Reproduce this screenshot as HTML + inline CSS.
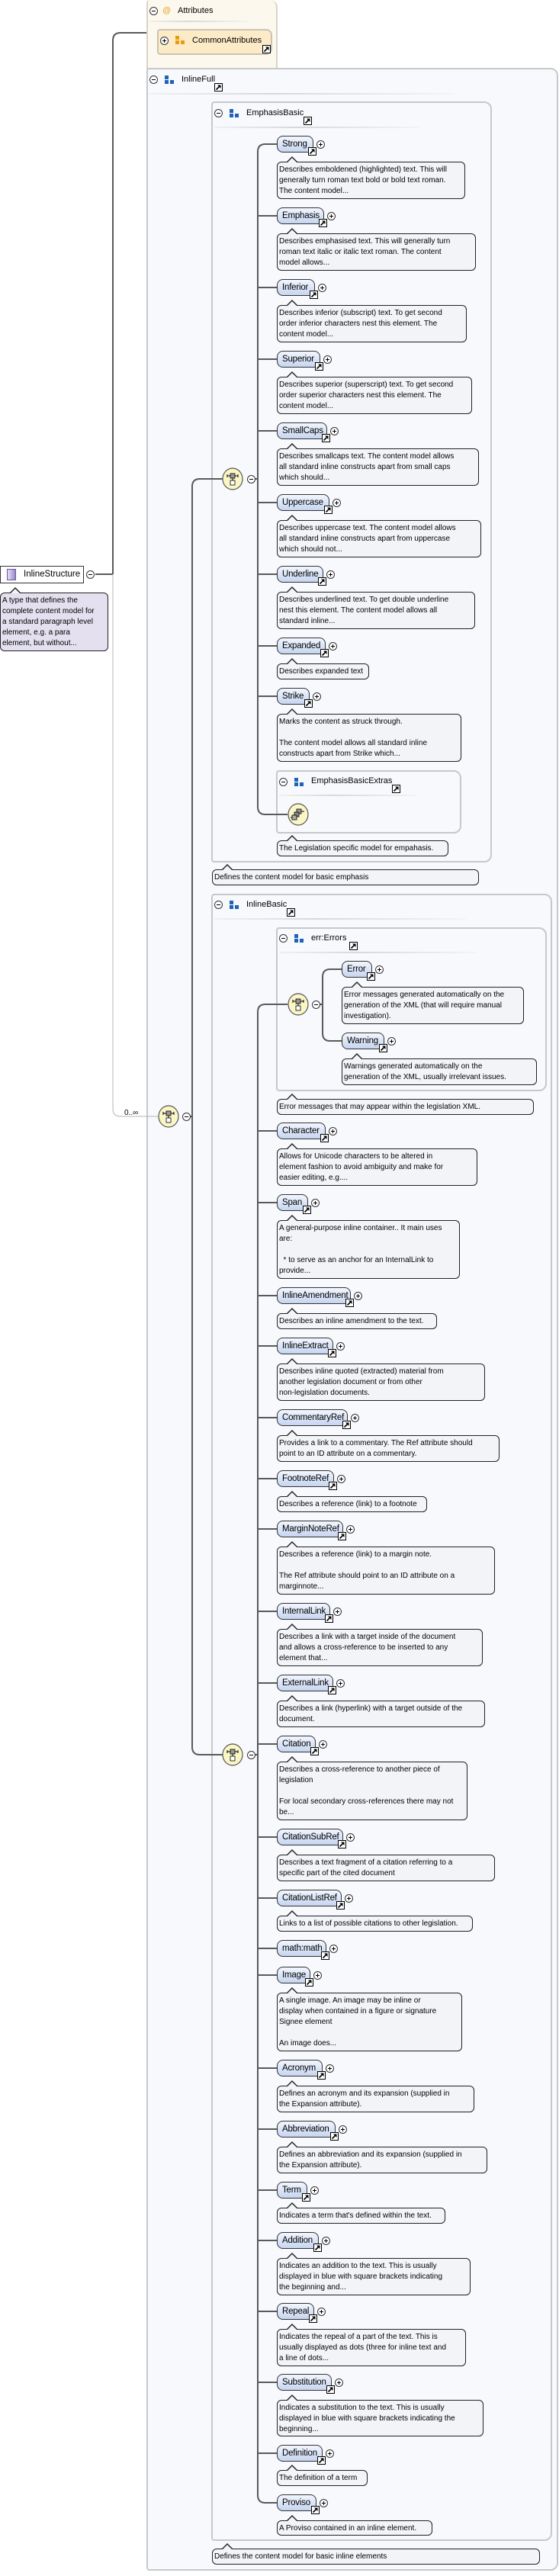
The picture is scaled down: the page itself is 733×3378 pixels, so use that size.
<!DOCTYPE html>
<html><head><meta charset="utf-8">
<style>
*{margin:0;padding:0}
body{width:733px;height:3378px;position:relative;background:#fff;font-family:"Liberation Sans",Arial,sans-serif;overflow:hidden}
.g{position:absolute;border:2px solid #c6c8cc;border-radius:4px 10px 10px 4px;background:#f7f9fd;box-sizing:border-box;z-index:1}
.hd{position:absolute;font-size:11px;line-height:14px;color:#000;z-index:4;white-space:nowrap}
.sep{position:absolute;height:2px;background:linear-gradient(90deg,#f0f0f0,#d8d8d8 40%,#f4f4f4);z-index:2}
.mi,.p{position:absolute;width:9px;height:9px;border:1px solid #333;border-radius:50%;background:#fff;z-index:4;box-sizing:content-box}
.mi::after{content:"";position:absolute;left:2px;top:4px;width:5px;height:1px;background:#000}
.p::after{content:"";position:absolute;left:2px;top:4px;width:5px;height:1px;background:#000}
.p::before{content:"";position:absolute;left:4px;top:2px;width:1px;height:5px;background:#000}
.bi{position:absolute;width:14px;height:12px;z-index:4}
.bi::before{content:"";position:absolute;left:0;top:0;width:5px;height:5px;background:#1f62b6;box-shadow:0 6px 0 #1f62b6,7px 6px 0 #1f62b6}
.oi::before{background:#e89b12;box-shadow:0 6px 0 #e89b12,7px 6px 0 #e89b12}
.s{position:absolute;width:9px;height:9px;border:1px solid #000;background:#fff url("data:image/svg+xml,%3Csvg xmlns='http://www.w3.org/2000/svg' width='9' height='9'%3E%3Cpath d='M1.5 7.5 L6.5 2.5' stroke='black' stroke-width='1.6'/%3E%3Cpath d='M3 1.5 H7.5 V6 Z' fill='black'/%3E%3C/svg%3E") no-repeat;z-index:5}
.n{position:absolute;height:22px;border:1px solid #333;border-radius:8px 8px 3px 8px;background:linear-gradient(#f2f6fe,#c6d5f0);font-size:11.5px;line-height:20px;padding-left:6px;box-sizing:border-box;z-index:4;white-space:nowrap;letter-spacing:-0.2px}
.d{position:absolute;left:363px;border:1px solid #222;border-radius:6px;background:#f2f4f8;font-size:10px;line-height:14px;padding:3px 2px 0 2px;box-sizing:border-box;white-space:nowrap;z-index:4;color:#000}
.d::before{content:"";position:absolute;left:12px;top:-8px;border:7px solid transparent;border-top:0;border-bottom:7px solid #222}
.d::after{content:"";position:absolute;left:13px;top:-6px;border:6px solid transparent;border-top:0;border-bottom:6px solid #f2f4f8}
svg{position:absolute;left:0;top:0;z-index:3}
</style></head><body>

<div class="g" style="left:192px;top:0;width:172px;height:114px;background:#fdf8ee;border-color:#d9d3c7;border-top:none"></div>
<i class="mi" style="left:196px;top:9px"></i>
<div class="hd" style="left:213px;top:7px;color:#e8a020">@</div>
<div class="hd" style="left:233px;top:7px">Attributes</div>
<div class="sep" style="left:196px;top:27px;width:130px"></div>
<div class="g" style="left:206px;top:38px;width:151px;height:34px;background:#fdebc8;border-color:#c9c3b6;border-radius:4px 8px 8px 4px"></div>
<i class="p" style="left:210px;top:48px"></i>
<i class="bi oi" style="left:230px;top:47px"></i>
<div class="hd" style="left:252px;top:46px">CommonAttributes</div>
<b class="s" style="left:344px;top:59px"></b>

<div class="g" style="left:192px;top:89px;width:540px;height:3282px"></div>
<i class="mi" style="left:196px;top:99px"></i>
<i class="bi" style="left:216px;top:99px"></i>
<div class="hd" style="left:238px;top:97px">InlineFull</div>
<b class="s" style="left:281px;top:109px"></b>
<div class="sep" style="left:196px;top:122px;width:400px"></div>

<div style="position:absolute;left:0;top:742px;width:110px;height:23px;border:1px solid #333;background:#fff;box-sizing:border-box;z-index:4"></div>
<div style="position:absolute;left:9px;top:746px;width:12px;height:15px;border:1px solid #6a5a9a;background:linear-gradient(90deg,#e6e0f6,#9a88cc);box-sizing:border-box;z-index:5"></div>
<div class="hd" style="left:31px;top:746px;font-size:11.5px">InlineStructure</div>
<i class="mi" style="left:113px;top:748px"></i>
<div class="d" style="left:0;top:777px;width:142px;height:77px;background:#e4e0ef">A type that defines the<br>complete content model for<br>a standard paragraph level<br>element, e.g. a para<br>element, but without...</div>

<div class="g" style="left:277px;top:133px;width:368px;height:998px"></div>
<i class="mi" style="left:281px;top:143px"></i>
<i class="bi" style="left:301px;top:143px"></i>
<div class="hd" style="left:323px;top:141px">EmphasisBasic</div>
<b class="s" style="left:398px;top:153px"></b>
<div class="sep" style="left:281px;top:166px;width:270px"></div>

<div class="n" style="left:363px;top:178px;width:48px">Strong</div><i class="p" style="left:415px;top:184px"></i><b class="s" style="left:404px;top:193px"></b>
<div class="d" style="top:212px;width:247px;height:49px">Describes emboldened (highlighted) text. This will<br>generally turn roman text bold or bold text roman.<br>The content model...</div>
<div class="n" style="left:363px;top:272px;width:62px">Emphasis</div><i class="p" style="left:429px;top:278px"></i><b class="s" style="left:418px;top:287px"></b>
<div class="d" style="top:306px;width:261px;height:49px">Describes emphasised text. This will generally turn<br>roman text italic or italic text roman. The content<br>model allows...</div>
<div class="n" style="left:363px;top:366px;width:50px">Inferior</div><i class="p" style="left:417px;top:372px"></i><b class="s" style="left:406px;top:381px"></b>
<div class="d" style="top:400px;width:249px;height:49px">Describes inferior (subscript) text. To get second<br>order inferior characters nest this element. The<br>content model...</div>
<div class="n" style="left:363px;top:460px;width:57px">Superior</div><i class="p" style="left:424px;top:466px"></i><b class="s" style="left:413px;top:475px"></b>
<div class="d" style="top:494px;width:256px;height:49px">Describes superior (superscript) text. To get second<br>order superior characters nest this element. The<br>content model...</div>
<div class="n" style="left:363px;top:554px;width:66px">SmallCaps</div><i class="p" style="left:433px;top:560px"></i><b class="s" style="left:422px;top:569px"></b>
<div class="d" style="top:588px;width:265px;height:49px">Describes smallcaps text. The content model allows<br>all standard inline constructs apart from small caps<br>which should...</div>
<div class="n" style="left:363px;top:648px;width:69px">Uppercase</div><i class="p" style="left:436px;top:654px"></i><b class="s" style="left:425px;top:663px"></b>
<div class="d" style="top:682px;width:268px;height:49px">Describes uppercase text. The content model allows<br>all standard inline constructs apart from uppercase<br>which should not...</div>
<div class="n" style="left:363px;top:742px;width:61px">Underline</div><i class="p" style="left:428px;top:748px"></i><b class="s" style="left:417px;top:757px"></b>
<div class="d" style="top:776px;width:260px;height:49px">Describes underlined text. To get double underline<br>nest this element. The content model allows all<br>standard inline...</div>
<div class="n" style="left:363px;top:836px;width:64px">Expanded</div><i class="p" style="left:431px;top:842px"></i><b class="s" style="left:420px;top:851px"></b>
<div class="d" style="top:870px;width:121px;height:21px">Describes expanded text</div>
<div class="n" style="left:363px;top:902px;width:43px">Strike</div><i class="p" style="left:410px;top:908px"></i><b class="s" style="left:399px;top:917px"></b>
<div class="d" style="top:936px;width:242px;height:63px">Marks the content as struck through.<br><br>The content model allows all standard inline<br>constructs apart from Strike which...</div>

<div class="g" style="left:362px;top:1010px;width:243px;height:83px"></div>
<i class="mi" style="left:366px;top:1020px"></i>
<i class="bi" style="left:386px;top:1020px"></i>
<div class="hd" style="left:408px;top:1017px">EmphasisBasicExtras</div>
<b class="s" style="left:514px;top:1029px"></b>
<div class="sep" style="left:366px;top:1042px;width:180px"></div>
<div class="d" style="top:1102px;width:225px;height:21px">The Legislation specific model for empahasis.</div>
<div class="d" style="left:278px;top:1140px;width:350px;height:21px">Defines the content model for basic emphasis</div>

<div class="g" style="left:277px;top:1172px;width:447px;height:2160px"></div>
<i class="mi" style="left:281px;top:1181px"></i>
<i class="bi" style="left:301px;top:1181px"></i>
<div class="hd" style="left:323px;top:1179px">InlineBasic</div>
<b class="s" style="left:376px;top:1191px"></b>
<div class="sep" style="left:281px;top:1204px;width:330px"></div>

<div class="g" style="left:362px;top:1216px;width:355px;height:215px"></div>
<i class="mi" style="left:366px;top:1225px"></i>
<i class="bi" style="left:386px;top:1225px"></i>
<div class="hd" style="left:408px;top:1223px">err:Errors</div>
<b class="s" style="left:458px;top:1235px"></b>
<div class="sep" style="left:366px;top:1248px;width:260px"></div>
<div class="n" style="left:448px;top:1260px;width:40px">Error</div><i class="p" style="left:492px;top:1266px"></i><b class="s" style="left:481px;top:1275px"></b>
<div class="d" style="left:448px;top:1294px;width:239px;height:49px">Error messages generated automatically on the<br>generation of the XML (that will require manual<br>investigation).</div>
<div class="n" style="left:448px;top:1354px;width:56px">Warning</div><i class="p" style="left:508px;top:1360px"></i><b class="s" style="left:497px;top:1369px"></b>
<div class="d" style="left:448px;top:1388px;width:256px;height:35px">Warnings generated automatically on the<br>generation of the XML, usually irrelevant issues.</div>
<div class="d" style="top:1441px;width:337px;height:21px">Error messages that may appear within the legislation XML.</div>

<div class="n" style="left:363px;top:1472px;width:64px">Character</div><i class="p" style="left:431px;top:1478px"></i><b class="s" style="left:420px;top:1487px"></b>
<div class="d" style="top:1506px;width:263px;height:49px">Allows for Unicode characters to be altered in<br>element fashion to avoid ambiguity and make for<br>easier editing, e.g....</div>
<div class="n" style="left:363px;top:1566px;width:41px">Span</div><i class="p" style="left:408px;top:1572px"></i><b class="s" style="left:397px;top:1581px"></b>
<div class="d" style="top:1600px;width:240px;height:77px">A general-purpose inline container.. It main uses<br>are:<br><br>&nbsp;&nbsp;* to serve as an anchor for an InternalLink to<br>provide...</div>
<div class="n" style="left:363px;top:1688px;width:97px">InlineAmendment</div><i class="p" style="left:464px;top:1694px"></i><b class="s" style="left:453px;top:1703px"></b>
<div class="d" style="top:1722px;width:210px;height:21px">Describes an inline amendment to the text.</div>
<div class="n" style="left:363px;top:1754px;width:74px">InlineExtract</div><i class="p" style="left:441px;top:1760px"></i><b class="s" style="left:430px;top:1769px"></b>
<div class="d" style="top:1788px;width:273px;height:49px">Describes inline quoted (extracted) material from<br>another legislation document or from other<br>non-legislation documents.</div>
<div class="n" style="left:363px;top:1848px;width:93px">CommentaryRef</div><i class="p" style="left:460px;top:1854px"></i><b class="s" style="left:449px;top:1863px"></b>
<div class="d" style="top:1882px;width:292px;height:35px">Provides a link to a commentary. The Ref attribute should<br>point to an ID attribute on a commentary.</div>
<div class="n" style="left:363px;top:1928px;width:75px">FootnoteRef</div><i class="p" style="left:442px;top:1934px"></i><b class="s" style="left:431px;top:1943px"></b>
<div class="d" style="top:1962px;width:197px;height:21px">Describes a reference (link) to a footnote</div>
<div class="n" style="left:363px;top:1994px;width:87px">MarginNoteRef</div><i class="p" style="left:454px;top:2000px"></i><b class="s" style="left:443px;top:2009px"></b>
<div class="d" style="top:2028px;width:286px;height:63px">Describes a reference (link) to a margin note.<br><br>The Ref attribute should point to an ID attribute on a<br>marginnote...</div>
<div class="n" style="left:363px;top:2102px;width:70px">InternalLink</div><i class="p" style="left:437px;top:2108px"></i><b class="s" style="left:426px;top:2117px"></b>
<div class="d" style="top:2136px;width:270px;height:49px">Describes a link with a target inside of the document<br>and allows a cross-reference to be inserted to any<br>element that...</div>
<div class="n" style="left:363px;top:2196px;width:74px">ExternalLink</div><i class="p" style="left:441px;top:2202px"></i><b class="s" style="left:430px;top:2211px"></b>
<div class="d" style="top:2230px;width:273px;height:35px">Describes a link (hyperlink) with a target outside of the<br>document.</div>
<div class="n" style="left:363px;top:2276px;width:51px">Citation</div><i class="p" style="left:418px;top:2282px"></i><b class="s" style="left:407px;top:2291px"></b>
<div class="d" style="top:2310px;width:250px;height:77px">Describes a cross-reference to another piece of<br>legislation<br><br>For local secondary cross-references there may not<br>be...</div>
<div class="n" style="left:363px;top:2398px;width:87px">CitationSubRef</div><i class="p" style="left:454px;top:2404px"></i><b class="s" style="left:443px;top:2413px"></b>
<div class="d" style="top:2432px;width:286px;height:35px">Describes a text fragment of a citation referring to a<br>specific part of the cited document</div>
<div class="n" style="left:363px;top:2478px;width:85px">CitationListRef</div><i class="p" style="left:452px;top:2484px"></i><b class="s" style="left:441px;top:2493px"></b>
<div class="d" style="top:2512px;width:257px;height:21px">Links to a list of possible citations to other legislation.</div>
<div class="n" style="left:363px;top:2544px;width:65px">math:math</div><i class="p" style="left:432px;top:2550px"></i><b class="s" style="left:421px;top:2559px"></b>
<div class="n" style="left:363px;top:2579px;width:44px">Image</div><i class="p" style="left:411px;top:2585px"></i><b class="s" style="left:400px;top:2594px"></b>
<div class="d" style="top:2613px;width:243px;height:77px">A single image. An image may be inline or<br>display when contained in a figure or signature<br>Signee element<br><br>An image does...</div>
<div class="n" style="left:363px;top:2701px;width:60px">Acronym</div><i class="p" style="left:427px;top:2707px"></i><b class="s" style="left:416px;top:2716px"></b>
<div class="d" style="top:2735px;width:259px;height:35px">Defines an acronym and its expansion (supplied in<br>the Expansion attribute).</div>
<div class="n" style="left:363px;top:2781px;width:77px">Abbreviation</div><i class="p" style="left:444px;top:2787px"></i><b class="s" style="left:433px;top:2796px"></b>
<div class="d" style="top:2815px;width:276px;height:35px">Defines an abbreviation and its expansion (supplied in<br>the Expansion attribute).</div>
<div class="n" style="left:363px;top:2861px;width:40px">Term</div><i class="p" style="left:407px;top:2867px"></i><b class="s" style="left:396px;top:2876px"></b>
<div class="d" style="top:2895px;width:221px;height:21px">Indicates a term that's defined within the text.</div>
<div class="n" style="left:363px;top:2927px;width:55px">Addition</div><i class="p" style="left:422px;top:2933px"></i><b class="s" style="left:411px;top:2942px"></b>
<div class="d" style="top:2961px;width:254px;height:49px">Indicates an addition to the text. This is usually<br>displayed in blue with square brackets indicating<br>the beginning and...</div>
<div class="n" style="left:363px;top:3020px;width:49px">Repeal</div><i class="p" style="left:416px;top:3026px"></i><b class="s" style="left:405px;top:3035px"></b>
<div class="d" style="top:3054px;width:248px;height:49px">Indicates the repeal of a part of the text. This is<br>usually displayed as dots (three for inline text and<br>a line of dots...</div>
<div class="n" style="left:363px;top:3113px;width:72px">Substitution</div><i class="p" style="left:439px;top:3119px"></i><b class="s" style="left:428px;top:3128px"></b>
<div class="d" style="top:3147px;width:271px;height:48px">Indicates a substitution to the text. This is usually<br>displayed in blue with square brackets indicating the<br>beginning...</div>
<div class="n" style="left:363px;top:3206px;width:60px">Definition</div><i class="p" style="left:427px;top:3212px"></i><b class="s" style="left:416px;top:3221px"></b>
<div class="d" style="top:3239px;width:119px;height:21px">The definition of a term</div>
<div class="n" style="left:363px;top:3271px;width:52px">Proviso</div><i class="p" style="left:419px;top:3277px"></i><b class="s" style="left:408px;top:3286px"></b>
<div class="d" style="top:3305px;width:204px;height:20px">A Proviso contained in an inline element.</div>
<div class="d" style="left:278px;top:3342px;width:430px;height:21px">Defines the content model for basic inline elements</div>

<i class="mi" style="left:324px;top:623px"></i>
<i class="mi" style="left:239px;top:1459px"></i>
<i class="mi" style="left:409px;top:1312px"></i>
<i class="mi" style="left:324px;top:2296px"></i>

<svg width="733" height="3378" viewBox="0 0 733 3378">
<g fill="none" stroke="#5a5a5a" stroke-width="2">
<path d="M125,753 H148 M148,753 V53 Q148,43 158,43 H192"/>
<path d="M292,628 H262 Q252,628 252,638 V2291 Q252,2301 262,2301 H292 M248,1464 H252"/>
<path d="M334,628 H338 M363,189 H348 Q338,189 338,199 V1058 Q338,1068 348,1068 H377 M338,283 H363 M338,377 H363 M338,471 H363 M338,565 H363 M338,659 H363 M338,753 H363 M338,847 H363 M338,913 H363"/>
<path d="M334,2301 H338 M377,1317 H348 Q338,1317 338,1327 V3272 Q338,3282 348,3282 H363 M338,1483 H363 M338,1577 H363 M338,1699 H363 M338,1765 H363 M338,1859 H363 M338,1939 H363 M338,2005 H363 M338,2113 H363 M338,2207 H363 M338,2287 H363 M338,2409 H363 M338,2489 H363 M338,2555 H363 M338,2590 H363 M338,2712 H363 M338,2792 H363 M338,2872 H363 M338,2938 H363 M338,3031 H363 M338,3124 H363 M338,3217 H363"/>
<path d="M419,1317 H423 M448,1271 H433 Q423,1271 423,1281 V1355 Q423,1365 433,1365 H448"/>
</g>
<path d="M148,753 V1454 Q148,1464 158,1464 H207" fill="none" stroke="#b4b4b4" stroke-width="1"/>
<text x="163" y="1462" font-family="Liberation Sans, sans-serif" font-size="10" fill="#000">0..∞</text>
<g id="seq">
<ellipse cx="305" cy="628" rx="13" ry="14" fill="#fbf6c6" stroke="#555" stroke-width="1.2"/>
<path d="M298,624 H312 M298,622 V626 M312,622 V626 M305,624 V630" stroke="#000" stroke-width="1"/>
<rect x="302" y="621" width="6" height="6" fill="#999" stroke="#000" stroke-width="0.8"/>
<rect x="302" y="630" width="6" height="6" fill="#fff" stroke="#000" stroke-width="0.8"/>
</g>
<use href="#seq" transform="translate(-84,836)"/>
<use href="#seq" transform="translate(86,689)"/>
<use href="#seq" transform="translate(0,1673)"/>
<ellipse cx="391" cy="1068" rx="13" ry="14" fill="#fbf6c6" stroke="#555" stroke-width="1.2"/>
<rect x="389" y="1061" width="6" height="6" fill="#999" stroke="#000" stroke-width="0.8"/>
<rect x="386" y="1065" width="6" height="6" fill="#888" stroke="#000" stroke-width="0.8"/>
<rect x="383" y="1069" width="6" height="6" fill="#aaa" stroke="#000" stroke-width="0.8"/>
<path d="M381,1072 H383 M395,1064 H399" stroke="#000" stroke-width="1"/>
</svg>
</body></html>
